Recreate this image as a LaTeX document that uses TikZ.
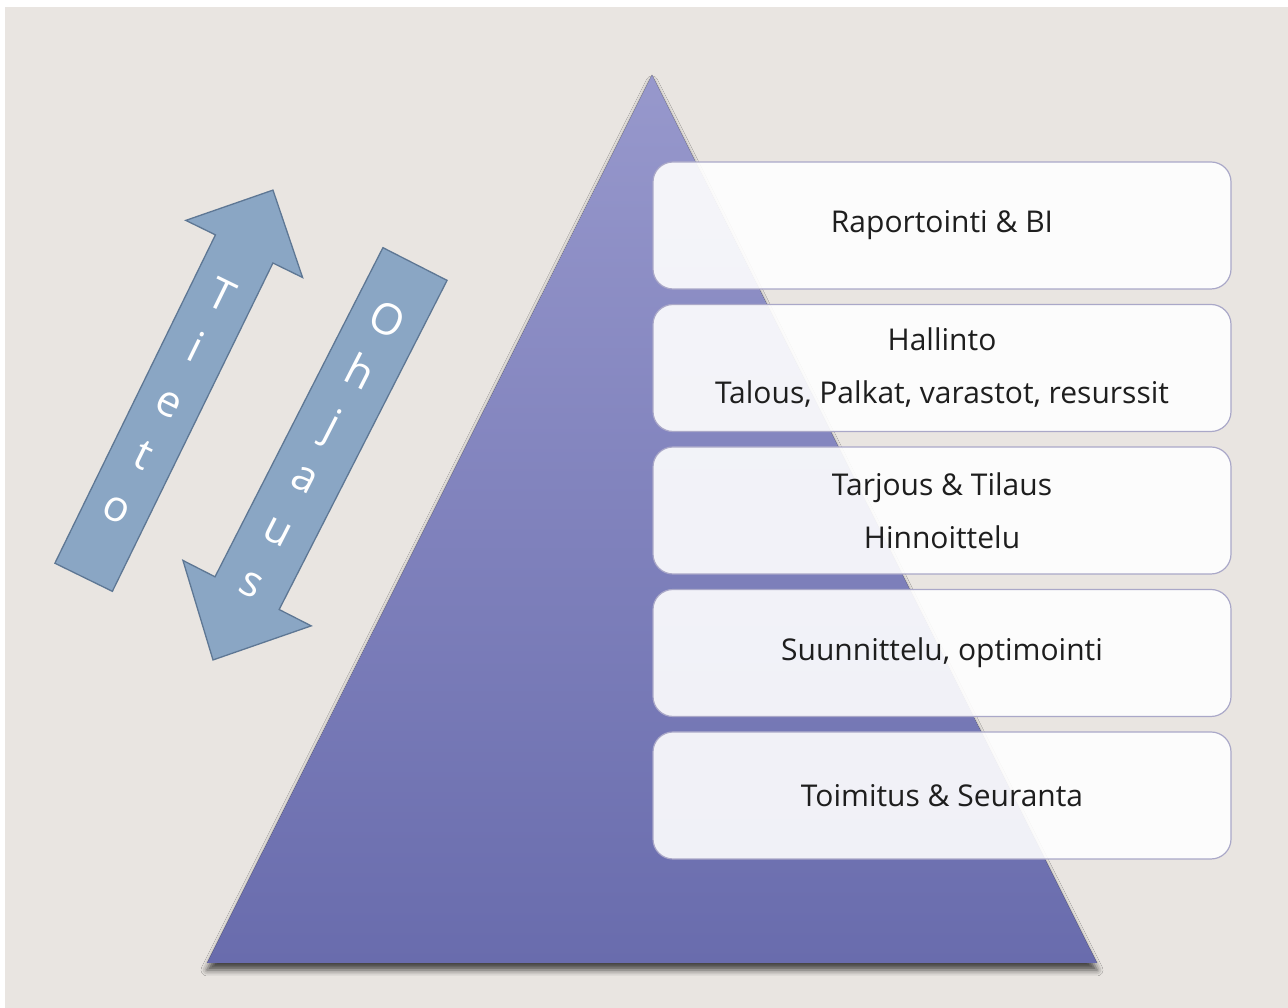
\documentclass[tikz,border=0pt]{standalone}
\usepackage{fontspec}
\setmainfont{Open Sans}
\usetikzlibrary{positioning, shadows.blur}

\definecolor{bgcol}{HTML}{E9E5E1}
\definecolor{pyrtop}{HTML}{9798CC}
\definecolor{pyrbot}{HTML}{696CAD}
\definecolor{boxline}{HTML}{AAA8C8}
\definecolor{arrowfill}{HTML}{8AA6C4}
\definecolor{arrowline}{HTML}{5E7794}
\definecolor{labeltext}{HTML}{1E1E1E}

\begin{document}
\begin{tikzpicture}[x=1pt, y=1pt, node distance=14.3pt,
    layer/.style={draw=boxline, line width=1.2pt, fill=white, fill opacity=0.9,
      text opacity=1, rounded corners=20pt, minimum width=578pt, minimum height=127pt,
      align=center, text=labeltext, font=\fontsize{30}{53}\selectfont},
    flow/.style={fill=arrowfill, draw=arrowline, line width=1.3pt, line join=miter},
    flowtext/.style={text=white, align=center, transform shape,
      font=\fontsize{43}{59}\selectfont}]
  % background
  \fill[white] (0,0) rectangle (1288,1008);
  \fill[bgcol] (5,0) rectangle (1288,1001);
  \useasboundingbox (0,0) rectangle (1288,1008);

  % pyramid
  \coordinate (apex) at (652,933);
  \coordinate (baseL) at (207,45);
  \coordinate (baseR) at (1097,45);
  \fill[top color=pyrtop, bottom color=pyrbot,
    blur shadow={shadow xshift=0pt, shadow yshift=-7pt, shadow blur radius=6pt, shadow opacity=70}]
    (apex) -- (baseR) -- (baseL) -- cycle;

  % layers
  \node[layer] (raportointi) at (942,782.5) {Raportointi \& BI};
  \node[layer] (hallinto) [below = of raportointi] {Hallinto\\Talous, Palkat, varastot, resurssit};
  \node[layer] (tarjous) [below = of hallinto] {Tarjous \& Tilaus\\Hinnoittelu};
  \node[layer] (suunnittelu) [below = of tarjous] {Suunnittelu, optimointi};
  \node[layer] (toimitus) [below = of suunnittelu] {Toimitus \& Seuranta};

  % information goes up
  \begin{scope}[shift={(178.3,624.3)}, rotate=63.94]
    \draw[flow] (-215.5,-32) -- (150,-32) -- (150,-65) -- (215.5,0)
      -- (150,65) -- (150,32) -- (-215.5,32) -- cycle;
    \node[flowtext, rotate=-90] (tieto) at (-19,0) {T\\i\\e\\t\\o};
  \end{scope}

  % control goes down
  \begin{scope}[shift={(314,546)}, rotate=242.97]
    \draw[flow] (-222.25,-36) -- (147.25,-36) -- (147.25,-72) -- (222.25,0)
      -- (147.25,72) -- (147.25,36) -- (-222.25,36) -- cycle;
    \node[flowtext, rotate=90] (ohjaus) at (-13,0) {O\\h\\j\\a\\u\\s};
  \end{scope}
\end{tikzpicture}
\end{document}
